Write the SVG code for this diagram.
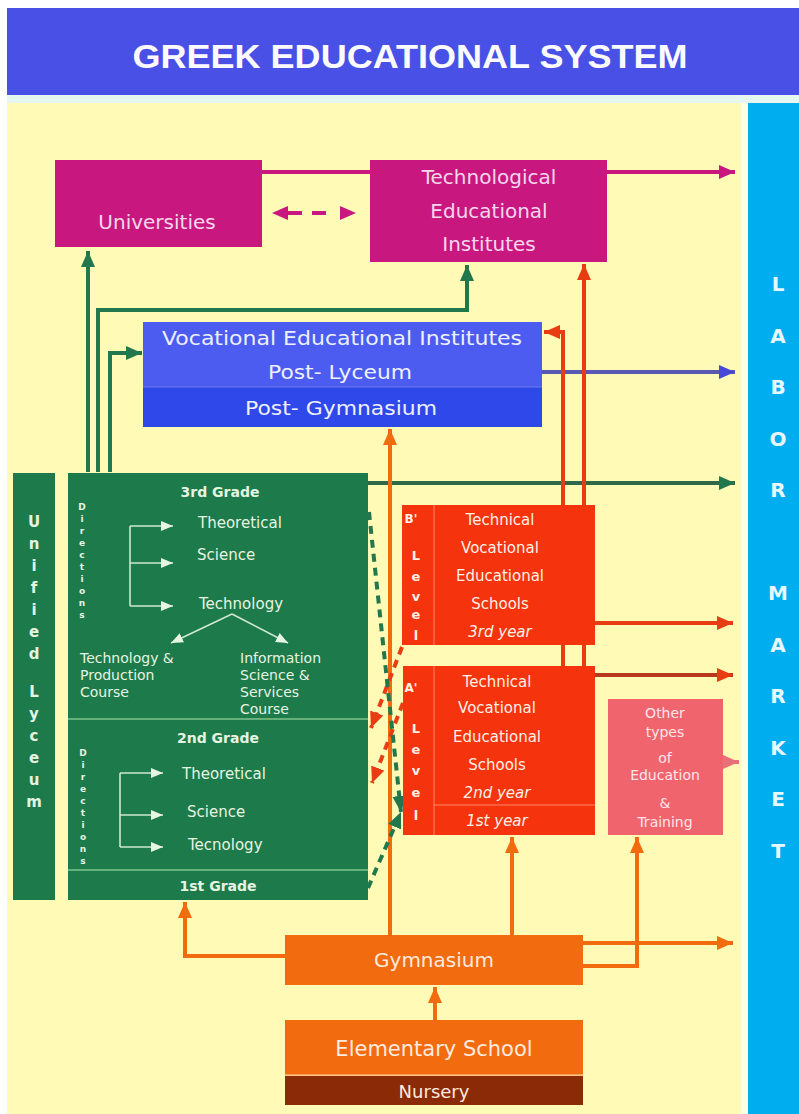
<svg xmlns="http://www.w3.org/2000/svg" width="799" height="1114" viewBox="0 0 799 1114">
<defs>
<style>
.t{font-family:"DejaVu Sans","Liberation Sans",sans-serif;text-anchor:middle}
.hdr{font-family:"Liberation Sans","DejaVu Sans",sans-serif;font-weight:bold;font-size:34px;fill:#fbfbff;text-anchor:middle}
.lm{font-family:"DejaVu Sans","Liberation Sans",sans-serif;font-weight:bold;font-size:20px;fill:#e8f8ff;text-anchor:middle}
.pk{fill:#f6d6ec}
.wl{fill:#eef0ff}
.gl{fill:#e6f4e2}
.rl{fill:#fff0e6}
.ol{fill:#ffeadf}
.ln{fill:none;stroke-width:4}
.mag{stroke:#c8187f}
.grn{stroke:#22784c}
.red{stroke:#e83c12}
.org{stroke:#f26b0f}
.thin{fill:none;stroke:#cfe8cf;stroke-width:1.6}
</style>
<marker id="aMag" viewBox="0 0 16 14" refX="16" refY="7" markerWidth="16" markerHeight="14" markerUnits="userSpaceOnUse" orient="auto-start-reverse"><path d="M0,0 L16,7 L0,14 z" fill="#c8187f"/></marker>
<marker id="aGrn" viewBox="0 0 16 14" refX="16" refY="7" markerWidth="16" markerHeight="14" markerUnits="userSpaceOnUse" orient="auto"><path d="M0,0 L16,7 L0,14 z" fill="#22784c"/></marker>
<marker id="aBlu" viewBox="0 0 16 14" refX="16" refY="7" markerWidth="16" markerHeight="14" markerUnits="userSpaceOnUse" orient="auto"><path d="M0,0 L16,7 L0,14 z" fill="#4848d8"/></marker>
<marker id="aRed" viewBox="0 0 16 14" refX="16" refY="7" markerWidth="16" markerHeight="14" markerUnits="userSpaceOnUse" orient="auto"><path d="M0,0 L16,7 L0,14 z" fill="#e83c12"/></marker>
<marker id="aOrg" viewBox="0 0 16 14" refX="16" refY="7" markerWidth="16" markerHeight="14" markerUnits="userSpaceOnUse" orient="auto"><path d="M0,0 L16,7 L0,14 z" fill="#f26b0f"/></marker>
<marker id="aPnk" viewBox="0 0 16 14" refX="16" refY="7" markerWidth="16" markerHeight="14" markerUnits="userSpaceOnUse" orient="auto"><path d="M0,0 L16,7 L0,14 z" fill="#e8707a"/></marker>
<marker id="aWht" viewBox="0 0 12 10" refX="12" refY="5" markerWidth="12" markerHeight="10" markerUnits="userSpaceOnUse" orient="auto"><path d="M0,0 L12,5 L0,10 z" fill="#e6f4e2"/></marker>
</defs>

<rect width="799" height="1114" fill="#ffffff"/>
<rect x="7" y="95" width="792" height="9" fill="#e6f6f0"/>
<rect x="7" y="103" width="734" height="1011" fill="#fffab6"/>
<rect x="741" y="103" width="7" height="1011" fill="#fdfde8"/>

<g id="header">
<rect x="7" y="8" width="792" height="87" fill="#4850e6"/>
<text class="hdr" x="410" y="68" textLength="555" lengthAdjust="spacingAndGlyphs">GREEK EDUCATIONAL SYSTEM</text>
</g>

<g id="labor-market">
<rect x="748" y="103" width="51" height="1011" fill="#00adee"/>
<text class="lm" x="778 778 778 778 778 778 778 778 778 778 778 778" y="291 342.5 394 445.5 497 548.5 600 651.5 703 754.5 806 857.5">LABOR MARKET</text>
</g>

<g id="connectors">
<path class="ln mag" d="M262,172 H735" marker-end="url(#aMag)"/>
<path class="ln mag" d="M272,213 H356" stroke-dasharray="0,16,14,10,14,16" marker-start="url(#aMag)" marker-end="url(#aMag)"/>
<path class="ln grn" d="M88,472 V251" marker-end="url(#aGrn)"/>
<path class="ln grn" d="M98,472 V310 H467 V265" marker-end="url(#aGrn)"/>
<path class="ln grn" d="M110,472 V353 H142" marker-end="url(#aGrn)"/>
<path class="ln" stroke="#2f6a48" d="M368,483 H735" marker-end="url(#aGrn)"/>
<path class="ln" stroke="#5a58b4" d="M542,372 H735" marker-end="url(#aBlu)"/>
<path class="ln red" d="M563,666 V332 H544" marker-end="url(#aRed)"/>
<path class="ln red" d="M584,666 V264" marker-end="url(#aRed)"/>
<path class="ln red" d="M595,623 H733" marker-end="url(#aRed)"/>
<path class="ln" stroke="#b83a1c" d="M595,675 H733" marker-end="url(#aRed)"/>
<path class="ln" stroke="#e8707a" d="M723,762 H739" marker-end="url(#aPnk)"/>
<path class="ln org" stroke-width="3.5" d="M390,935 V429" marker-end="url(#aOrg)"/>
<path class="ln org" stroke-width="3.5" d="M512,935 V837" marker-end="url(#aOrg)"/>
<path class="ln org" stroke-width="3.5" d="M583,966 H637 V837" marker-end="url(#aOrg)"/>
<path class="ln org" stroke-width="3.5" d="M583,943 H733" marker-end="url(#aOrg)"/>
<path class="ln org" stroke-width="3.5" d="M285,956 H185 V902" marker-end="url(#aOrg)"/>
<path class="ln org" stroke-width="3.5" d="M435,1020 V987" marker-end="url(#aOrg)"/>
<path class="ln red" stroke-width="3" stroke-dasharray="8,6" d="M402,647 L371,728" marker-end="url(#aRed)"/>
<path class="ln red" stroke-width="3" stroke-dasharray="8,6" d="M403,703 L372,783" marker-end="url(#aRed)"/>
<path class="ln grn" stroke-width="3" stroke-dasharray="8,6" d="M369,512 L401,812" marker-end="url(#aGrn)"/>
<path class="ln grn" stroke-width="3" stroke-dasharray="8,6" d="M368,888 L401,812" marker-end="url(#aGrn)"/>
</g>

<g id="universities">
<rect x="55" y="160" width="207" height="87" fill="#c8187f"/>
<text class="t pk" x="157" y="229" font-size="20">Universities</text>
</g>

<g id="tei">
<rect x="370" y="160" width="237" height="102" fill="#c8187f"/>
<text class="t pk" x="489" y="184" font-size="20">Technological</text>
<text class="t pk" x="489" y="218" font-size="20">Educational</text>
<text class="t pk" x="489" y="251" font-size="20">Institutes</text>
</g>

<g id="vocational">
<rect x="143" y="322" width="399" height="65" fill="#4c5cf0"/>
<rect x="143" y="387" width="399" height="40" fill="#2f48ea"/>
<line x1="143" y1="387" x2="542" y2="387" stroke="#6a78f2" stroke-width="1"/>
<text class="t wl" x="342" y="345" font-size="19" textLength="360" lengthAdjust="spacingAndGlyphs">Vocational Educational Institutes</text>
<text class="t wl" x="340" y="379" font-size="19" textLength="144" lengthAdjust="spacingAndGlyphs">Post- Lyceum</text>
<text class="t wl" x="341" y="415" font-size="19" textLength="192" lengthAdjust="spacingAndGlyphs">Post- Gymnasium</text>
</g>

<g id="unified-lyceum">
<rect x="13" y="473" width="42" height="427" fill="#1d7a4a"/>
<text class="t gl" font-size="15" font-weight="bold" x="34 34 34 34 34 34 34 34 34 34 34 34 34 34" y="527 549 571 593 615 637 659 678 697 719 741 763 785 807">Unified Lyceum</text>
</g>

<g id="lyceum">
<rect x="68" y="473" width="300" height="427" fill="#1d7a4a"/>
<line x1="68" y1="719" x2="368" y2="719" stroke="#7ec48e" stroke-width="1.5"/>
<line x1="68" y1="870" x2="368" y2="870" stroke="#7ec48e" stroke-width="1.5"/>
<text class="t gl" x="220" y="497" font-size="14" font-weight="bold">3rd Grade</text>
<text class="t gl" font-size="9" font-weight="bold" x="82 82 82 82 82 82 82 82 82 82" y="510 522 534 546 558 570 582 594 606 618">Directions</text>
<path class="thin" d="M130,526 V606"/>
<path class="thin" d="M130,526 H173" marker-end="url(#aWht)"/>
<path class="thin" d="M130,563 H173" marker-end="url(#aWht)"/>
<path class="thin" d="M130,606 H173" marker-end="url(#aWht)"/>
<text class="gl" x="198" y="528" font-size="15" font-family="DejaVu Sans, sans-serif">Theoretical</text>
<text class="gl" x="197" y="560" font-size="15" font-family="DejaVu Sans, sans-serif">Science</text>
<text class="gl" x="199" y="609" font-size="15" font-family="DejaVu Sans, sans-serif">Technology</text>
<path class="thin" d="M232,614 L171,643" marker-end="url(#aWht)"/>
<path class="thin" d="M232,614 L288,643" marker-end="url(#aWht)"/>
<g class="gl" font-size="14" font-family="DejaVu Sans, sans-serif">
<text x="80" y="663">Technology &amp;</text>
<text x="80" y="680">Production</text>
<text x="80" y="697">Course</text>
<text x="240" y="663">Information</text>
<text x="240" y="680">Science &amp;</text>
<text x="240" y="697">Services</text>
<text x="240" y="714">Course</text>
</g>
<text class="t gl" x="218" y="743" font-size="14" font-weight="bold">2nd Grade</text>
<text class="t gl" font-size="9" font-weight="bold" x="83 83 83 83 83 83 83 83 83 83" y="756 768 780 792 804 816 828 840 852 864">Directions</text>
<path class="thin" d="M120,773 V847"/>
<path class="thin" d="M120,773 H163" marker-end="url(#aWht)"/>
<path class="thin" d="M120,815 H163" marker-end="url(#aWht)"/>
<path class="thin" d="M120,847 H163" marker-end="url(#aWht)"/>
<text class="gl" x="182" y="779" font-size="15" font-family="DejaVu Sans, sans-serif">Theoretical</text>
<text class="gl" x="187" y="817" font-size="15" font-family="DejaVu Sans, sans-serif">Science</text>
<text class="gl" x="188" y="850" font-size="15" font-family="DejaVu Sans, sans-serif">Tecnology</text>
<text class="t gl" x="218" y="891" font-size="14" font-weight="bold">1st Grade</text>
</g>

<g id="b-level">
<rect x="402" y="505" width="193" height="140" fill="#f5330c"/>
<line x1="434" y1="505" x2="434" y2="645" stroke="#ff7a5a" stroke-width="1.2"/>
<text class="t rl" x="411" y="523" font-size="12" font-weight="bold">B'</text>
<text class="t rl" font-size="13" font-weight="bold" x="416 416 416 416 416" y="560 581 601 619 640">Level</text>
<g class="t rl" font-size="15">
<text x="500" y="525">Technical</text>
<text x="500" y="553">Vocational</text>
<text x="500" y="581">Educational</text>
<text x="500" y="609">Schools</text>
<text x="500" y="637" font-style="italic">3rd year</text>
</g>
</g>

<g id="a-level">
<rect x="403" y="666" width="192" height="169" fill="#f5330c"/>
<line x1="434" y1="666" x2="434" y2="835" stroke="#ff7a5a" stroke-width="1.2"/>
<line x1="434" y1="805" x2="595" y2="805" stroke="#ff8a6a" stroke-width="1.2"/>
<text class="t rl" x="411" y="692" font-size="12" font-weight="bold">A'</text>
<text class="t rl" font-size="13" font-weight="bold" x="416 416 416 416 416" y="733 754 775 797 820">Level</text>
<g class="t rl" font-size="15">
<text x="497" y="687">Technical</text>
<text x="497" y="713">Vocational</text>
<text x="497" y="742">Educational</text>
<text x="497" y="770">Schools</text>
<text x="497" y="798" font-style="italic">2nd year</text>
<text x="497" y="826" font-style="italic">1st year</text>
</g>
</g>

<g id="other-types">
<rect x="608" y="699" width="115" height="136" fill="#f0646e"/>
<g class="t" fill="#ffe6ea" font-size="14">
<text x="665" y="718">Other</text>
<text x="665" y="737">types</text>
<text x="665" y="763">of</text>
<text x="665" y="780">Education</text>
<text x="665" y="808">&amp;</text>
<text x="665" y="827">Training</text>
</g>
</g>

<g id="gymnasium">
<rect x="285" y="935" width="298" height="50" fill="#f26b0f"/>
<text class="t ol" x="434" y="967" font-size="20">Gymnasium</text>
</g>

<g id="elementary">
<rect x="285" y="1020" width="298" height="55" fill="#f26b0f"/>
<line x1="285" y1="1075" x2="583" y2="1075" stroke="#ffb070" stroke-width="1.5"/>
<text class="t ol" x="434" y="1056" font-size="21">Elementary School</text>
</g>

<g id="nursery">
<rect x="285" y="1076" width="298" height="29" fill="#8a2a06"/>
<text class="t ol" x="434" y="1098" font-size="18">Nursery</text>
</g>
</svg>
